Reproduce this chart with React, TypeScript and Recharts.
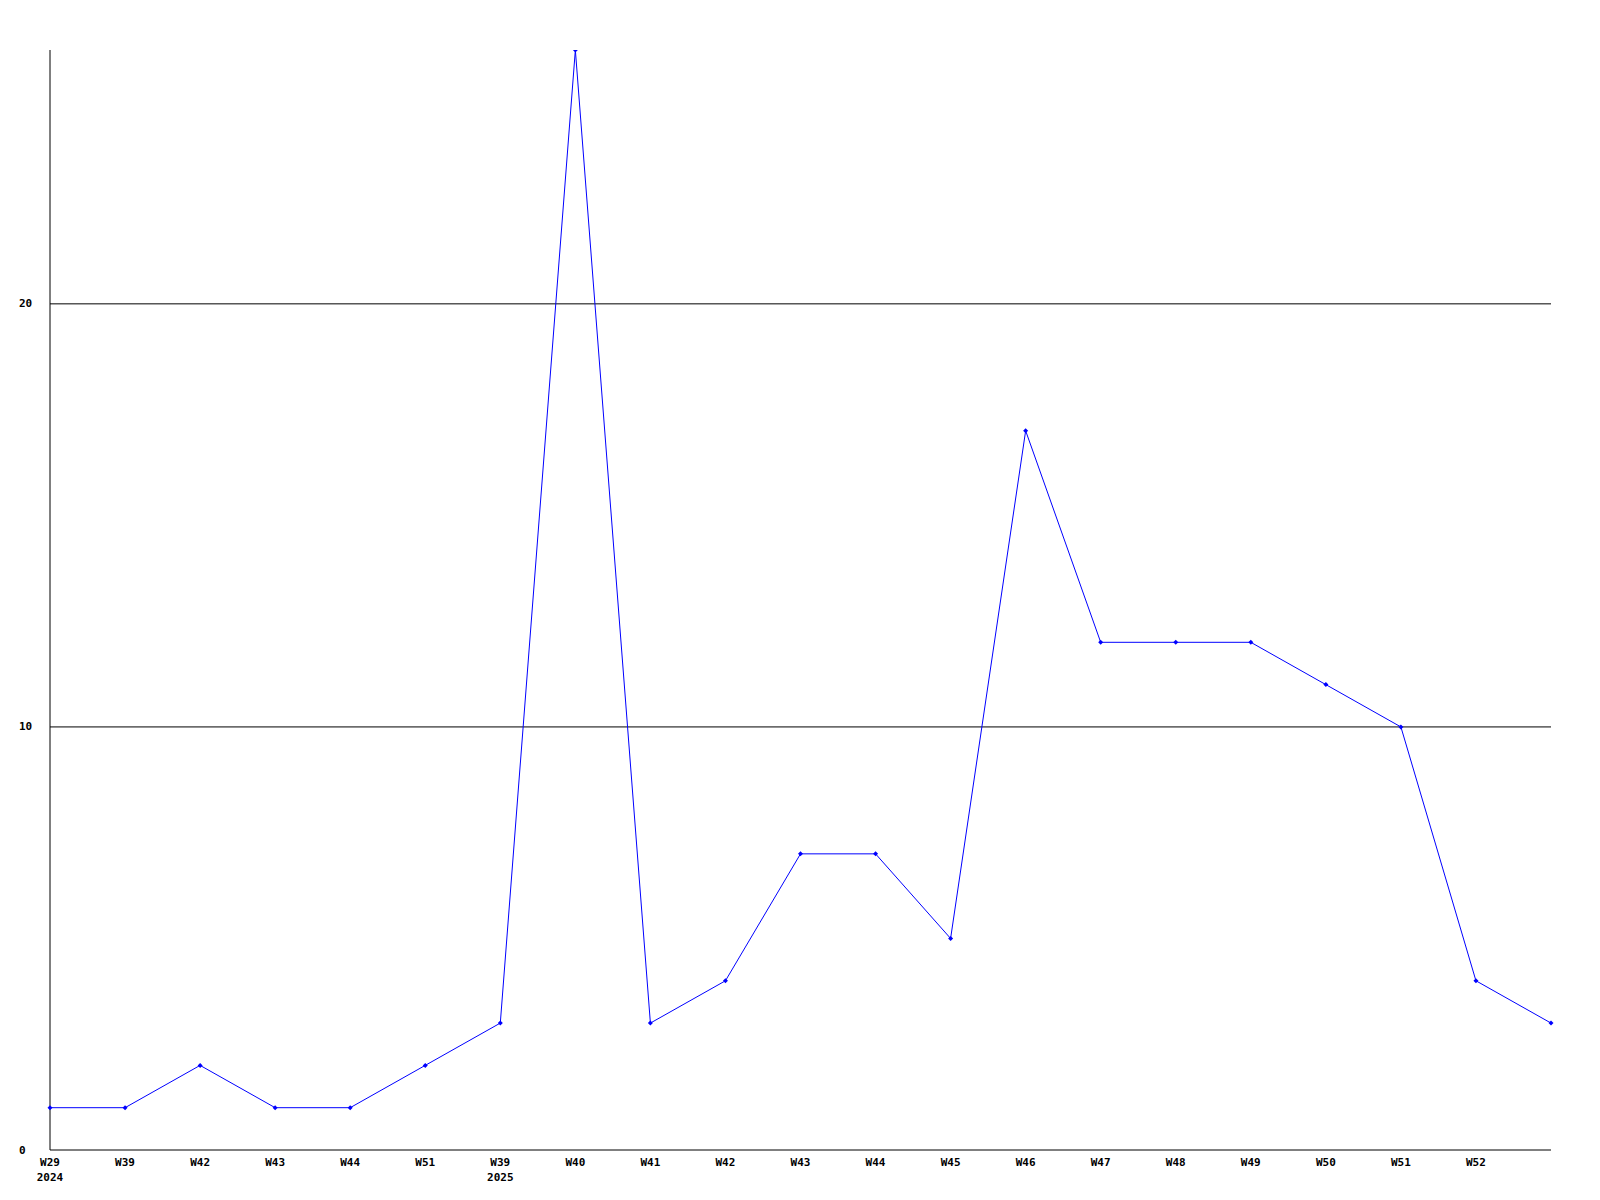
import { Line, LineChart, ReferenceLine, XAxis, YAxis } from "recharts";

const weeks = [
  "W29", "W39", "W42", "W43", "W44", "W51", "W39", "W40", "W41", "W42", "W43",
  "W44", "W45", "W46", "W47", "W48", "W49", "W50", "W51", "W52", "",
];
const years = [
  "2024", "", "", "", "", "", "2025", "", "", "", "", "", "", "", "", "", "", "", "", "", "",
];
const counts = [1, 1, 2, 1, 1, 2, 3, 26, 3, 4, 7, 7, 5, 17, 12, 12, 12, 11, 10, 4, 3];
const yTicks = [0, 10, 20];
const gridValues = [10, 20];

const FONT = "'DejaVu Sans Mono', 'Liberation Mono', monospace";

const data = counts.map((value, i) => ({
  idx: i,
  week: weeks[i],
  year: years[i],
  value,
}));

function WeekTick({ x, payload }: any) {
  const row = data[payload.value];
  return (
    <g>
      <text x={x} y={1162} textAnchor="middle" dominantBaseline="central"
        fontFamily={FONT} fontSize={11} fontWeight="bold" fill="#000">
        {row.week}
      </text>
      {row.year && (
        <text x={x} y={1177} textAnchor="middle" dominantBaseline="central"
          fontFamily={FONT} fontSize={11} fontWeight="bold" fill="#000">
          {row.year}
        </text>
      )}
    </g>
  );
}

function CountTick({ y, payload }: any) {
  return (
    <text x={19} y={y} textAnchor="start" dominantBaseline="central"
      fontFamily={FONT} fontSize={11} fontWeight="bold" fill="#000">
      {payload.value}
    </text>
  );
}

function Marker({ cx, cy, index }: any) {
  return (
    <path key={index} d={`M${cx - 2.5},${cy} L${cx},${cy - 2.5} L${cx + 2.5},${cy} L${cx},${cy + 2.5} Z`}
      fill="#0000ff" stroke="none" />
  );
}

export default function App() {
  return (
    <div style={{ position: "absolute", left: 0, top: 0, background: "#fff" }}>
      <LineChart width={1600} height={1200} data={data}
        margin={{ top: 50, right: 49, bottom: 0, left: 0 }}>
        <XAxis dataKey="idx" type="category" interval={0} height={50}
          axisLine={{ stroke: "#000" }} tickLine={false} tick={<WeekTick />} />
        <YAxis width={50} domain={[0, 26]} ticks={yTicks} allowDataOverflow
          axisLine={{ stroke: "#000" }} tickLine={false} tick={<CountTick />} />
        {gridValues.map((v) => (
          <ReferenceLine key={v} y={v} stroke="#000" strokeWidth={1} />
        ))}
        <Line dataKey="value" stroke="#0000ff" strokeWidth={1} dot={<Marker />}
          activeDot={false} isAnimationActive={false} />
      </LineChart>
    </div>
  );
}
